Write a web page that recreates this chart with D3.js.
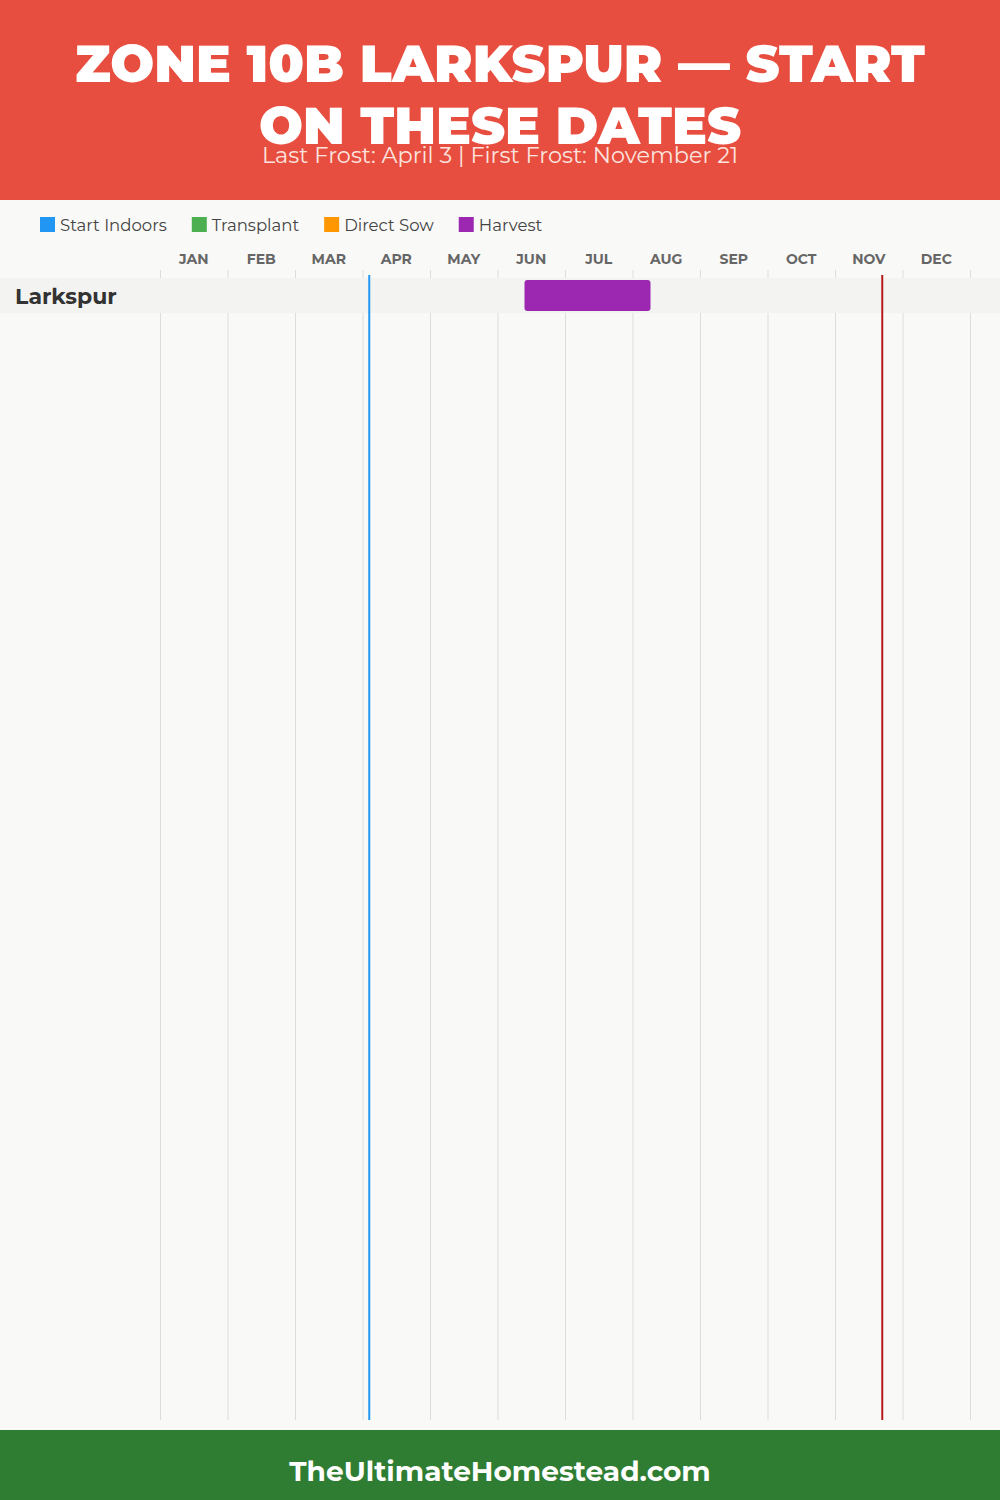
<!DOCTYPE html>
<html>
<head>
<meta charset="utf-8">
<script src="https://cdn.jsdelivr.net/npm/d3@7"></script>
<style>
  html, body { margin: 0; padding: 0; background: #f9f9f7; }
  svg { display: block; }
</style>
</head>
<body>
<div id="chart"></div>
<script>
// chart data
var titleLines = ['ZONE 10B LARKSPUR \u2014 START', 'ON THESE DATES'];
var subtitle = 'Last Frost: April 3 | First Frost: November 21';
var footer = 'TheUltimateHomestead.com';
var months = ['JAN', 'FEB', 'MAR', 'APR', 'MAY', 'JUN', 'JUL', 'AUG', 'SEP', 'OCT', 'NOV', 'DEC'];
var legendNames = ['Start Indoors', 'Transplant', 'Direct Sow', 'Harvest'];
var legendColors = ['#2196f3', '#4caf50', '#ff9800', '#9c27b0'];
var plants = ['Larkspur'];
// [plant, activity, start month, start day, end month, end day]
var tasks = [
    ['Larkspur', 'Harvest', 6, 12, 8, 8]
];
var frostDates = [
    { name: 'Last Frost', month: 4, day: 3, color: '#2196f3' },
    { name: 'First Frost', month: 11, day: 21, color: '#b71c1c' }
];

var W = 1000, H = 1500;
var fontMain = 'Montserrat, Inter, "Open Sans", sans-serif';

var svg = d3.select('#chart').append('svg')
    .attr('width', W).attr('height', H);

svg.append('rect').attr('width', W).attr('height', H).attr('fill', '#f9f9f7');

// header
svg.append('rect').attr('x', 0).attr('y', 0).attr('width', W).attr('height', 200).attr('fill', '#e84e3f');

var titleWidths = [850, 482];
svg.selectAll('.title').data(titleLines).enter().append('text')
    .attr('class', 'title')
    .attr('x', W / 2)
    .attr('y', function (d, i) { return 82 + i * 62; })
    .attr('text-anchor', 'middle')
    .attr('textLength', function (d, i) { return titleWidths[i]; })
    .attr('lengthAdjust', 'spacingAndGlyphs')
    .attr('font-family', fontMain)
    .attr('font-weight', 900)
    .attr('font-size', 52)
    .attr('fill', '#ffffff')
    .text(function (d) { return d; });

svg.append('text')
    .attr('x', W / 2).attr('y', 163)
    .attr('text-anchor', 'middle')
    .attr('font-family', fontMain)
    .attr('font-size', 22.4)
    .attr('fill', '#fbe3df')
    .text(subtitle);

// legend
var legend = svg.append('g').attr('transform', 'translate(40,217)');
var lx = 0;
legendNames.forEach(function (name, i) {
    var g = legend.append('g').attr('transform', 'translate(' + lx + ',0)');
    g.append('rect').attr('width', 15).attr('height', 15).attr('fill', legendColors[i]);
    var t = g.append('text')
        .attr('x', 20).attr('y', 14)
        .attr('font-family', fontMain)
        .attr('font-size', 16.5)
        .attr('fill', '#444')
        .text(name);
    lx += 20 + t.node().getComputedTextLength() + 25;
});

// scales
var x = d3.scaleLinear().domain([0, 12]).range([160, 970]);
var y = d3.scaleBand().domain(plants).range([278, 313]);
var gridTop = 270, gridBottom = 1420;

function pos(m, d) { return (m - 1) + d / 30; }

// month labels
svg.selectAll('.month').data(months).enter().append('text')
    .attr('class', 'month')
    .attr('x', function (d, i) { return x(i + 0.5); })
    .attr('y', 264)
    .attr('text-anchor', 'middle')
    .attr('font-family', fontMain)
    .attr('font-weight', 700)
    .attr('font-size', 14)
    .attr('fill', '#666')
    .text(function (d) { return d; });

// grid
svg.selectAll('.grid').data(d3.range(13)).enter().append('line')
    .attr('class', 'grid')
    .attr('x1', function (d) { return x(d) + 0.5; })
    .attr('x2', function (d) { return x(d) + 0.5; })
    .attr('y1', gridTop).attr('y2', gridBottom)
    .attr('stroke', '#dddddd').attr('stroke-width', 1);

// rows
svg.selectAll('.row').data(plants).enter().append('rect')
    .attr('class', 'row')
    .attr('x', 0).attr('y', function (d) { return y(d); })
    .attr('width', W).attr('height', y.bandwidth())
    .attr('fill', '#f3f3f2');

svg.selectAll('.label').data(plants).enter().append('text')
    .attr('class', 'label')
    .attr('x', 15)
    .attr('y', function (d) { return y(d) + y.bandwidth() / 2 + 8; })
    .attr('font-family', fontMain)
    .attr('font-weight', 700)
    .attr('font-size', 22)
    .attr('fill', '#333')
    .text(function (d) { return d; });

// bars
svg.selectAll('.bar').data(tasks).enter().append('rect')
    .attr('class', 'bar')
    .attr('x', function (d) { return x(pos(d[2], d[3])); })
    .attr('y', function (d) { return y(d[0]) + 2; })
    .attr('width', function (d) { return x(pos(d[4], d[5])) - x(pos(d[2], d[3])); })
    .attr('height', y.bandwidth() - 4)
    .attr('rx', 3)
    .attr('fill', function (d) { return legendColors[legendNames.indexOf(d[1])]; });

// frost lines
svg.selectAll('.frost').data(frostDates).enter().append('line')
    .attr('class', 'frost')
    .attr('x1', function (d) { return x(pos(d.month, d.day)); })
    .attr('x2', function (d) { return x(pos(d.month, d.day)); })
    .attr('y1', 275).attr('y2', gridBottom)
    .attr('stroke', function (d) { return d.color; })
    .attr('stroke-width', 2);

// footer
svg.append('rect').attr('x', 0).attr('y', 1430).attr('width', W).attr('height', 70).attr('fill', '#2e7d32');
svg.append('text')
    .attr('x', W / 2).attr('y', 1481)
    .attr('text-anchor', 'middle')
    .attr('font-family', fontMain)
    .attr('font-weight', 700)
    .attr('font-size', 28)
    .attr('fill', '#ffffff')
    .text(footer);
</script>
</body>
</html>
